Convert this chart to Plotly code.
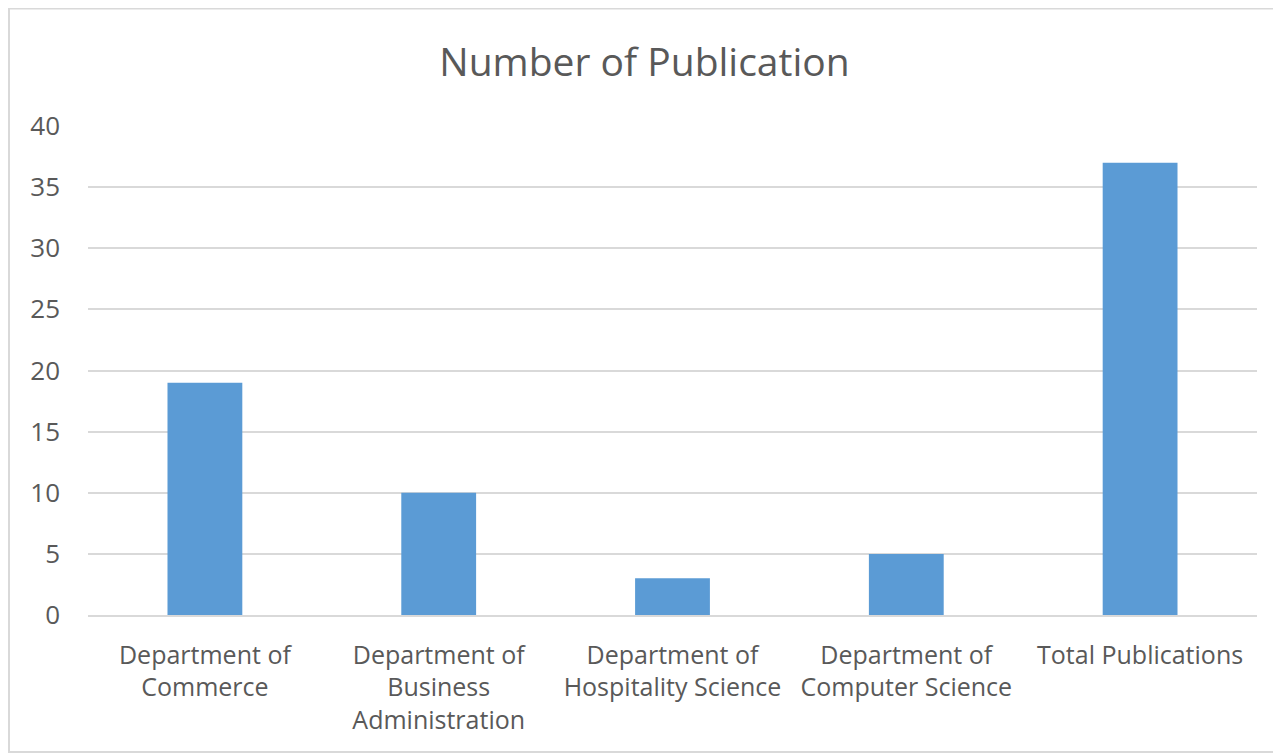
import plotly.graph_objects as go

categories = ["Department of<br>Commerce", "Department of<br>Business<br>Administration",
              "Department of<br>Hospitality Science", "Department of<br>Computer Science",
              "Total Publications"]
values = [19, 10, 3, 5, 37]
y_ticks = [0, 5, 10, 15, 20, 25, 30, 35, 40]

FONT = "Open Sans"
TXT = "#595959"
W, H = 1273, 746
L, R, T, B = 80, 24, 118, 139
PW, PH = W - L - R, H - T - B

fig = go.Figure(go.Bar(x=categories, y=values, marker=dict(color="#5B9BD5", line=dict(width=0))))

fig.update_layout(
    width=W, height=H,
    paper_bgcolor="white", plot_bgcolor="white",
    margin=dict(l=L, r=R, t=T, b=B),
    bargap=0.68,
    showlegend=False,
    font=dict(family=FONT, color=TXT, size=25),
    title=dict(text="Number of Publication", x=0.5, xanchor="center", y=1 - 54 / H, yanchor="middle",
               font=dict(family=FONT, size=39, color=TXT)),
)
fig.update_yaxes(range=[0, 40], tickvals=y_ticks, showgrid=True, gridcolor="#D9D9D9", gridwidth=1.5,
                 zeroline=False, showline=False, ticklabelstandoff=27,
                 tickfont=dict(family=FONT, size=26, color=TXT))
fig.update_xaxes(showgrid=False, showline=True, linecolor="#D9D9D9", linewidth=1.5,
                 ticklabelstandoff=17, tickfont=dict(family=FONT, size=25, color=TXT))
fig.add_shape(type="rect", xref="paper", yref="paper",
              x0=-(L - 1) / PW, x1=1 + (R - 1) / PW, y0=-(B - 2) / PH, y1=1 + (T - 0.5) / PH,
              line=dict(color="#D9D9D9", width=2), fillcolor="rgba(0,0,0,0)", layer="below")
fig.write_html("out.html")
